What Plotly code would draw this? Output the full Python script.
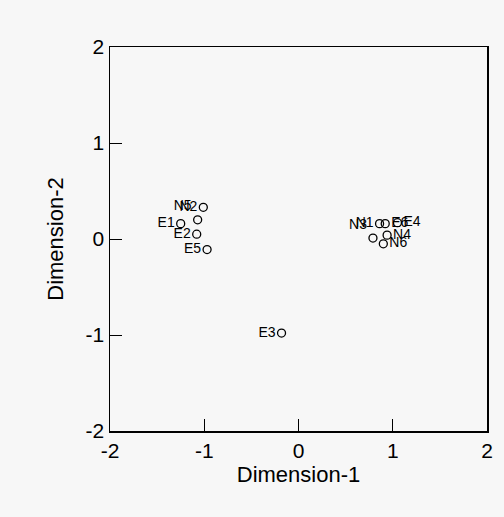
import plotly.graph_objects as go

labels = ["E1", "E2", "E3", "E4", "E5", "E6", "N1", "N2", "N3", "N4", "N5", "N6"]
dim1 = [-1.25, -1.08, -0.18, 1.05, -0.97, 0.92, 0.86, -1.01, 0.79, 0.94, -1.07, 0.90]
dim2 = [0.16, 0.05, -0.98, 0.17, -0.11, 0.16, 0.16, 0.33, 0.01, 0.04, 0.20, -0.05]
label_pos = ["middle left", "middle left", "middle left", "middle right", "middle left",
             "middle right", "middle left", "middle left", "top left", "middle right",
             "top left", "middle right"]
tick_vals = [-2, -1, 0, 1, 2]
tick_text = ["-2", "-1", "0", "1", "2"]

bg = "#f7f7f7"
font = "Liberation Sans, Arial, sans-serif"

fig = go.Figure()
fig.add_trace(go.Scatter(
    x=dim1, y=dim2, mode="markers+text", text=labels, textposition=label_pos,
    textfont=dict(family=font, size=14, color="black"),
    marker=dict(symbol="circle-open", size=8, color="black", line=dict(width=1.3, color="black")),
    cliponaxis=False, hoverinfo="skip",
))

axis_common = dict(
    range=[-2, 2], tickvals=tick_vals, ticktext=tick_text, ticks="inside", ticklen=12,
    tickwidth=1, tickcolor="black", showline=True, linecolor="black", linewidth=1.5,
    mirror=True, showgrid=False, zeroline=False,
    tickfont=dict(family=font, size=21, color="black"),
)

fig.update_layout(
    width=504, height=517,
    margin=dict(l=110, r=11, t=47, b=86),
    paper_bgcolor=bg, plot_bgcolor=bg,
    showlegend=False,
    xaxis=dict(title=dict(text="Dimension-1", font=dict(family=font, size=22, color="black"), standoff=6),
               ticklabelstandoff=0, **axis_common),
    yaxis=dict(title=dict(text="Dimension-2", font=dict(family=font, size=22, color="black"), standoff=16),
               **axis_common),
)

fig.write_html(
    "out.html",
    config={"displayModeBar": False, "staticPlot": True},
    post_script="document.body.style.margin='0';document.body.style.background='#f7f7f7';"
                "document.documentElement.style.background='#f7f7f7';",
)
